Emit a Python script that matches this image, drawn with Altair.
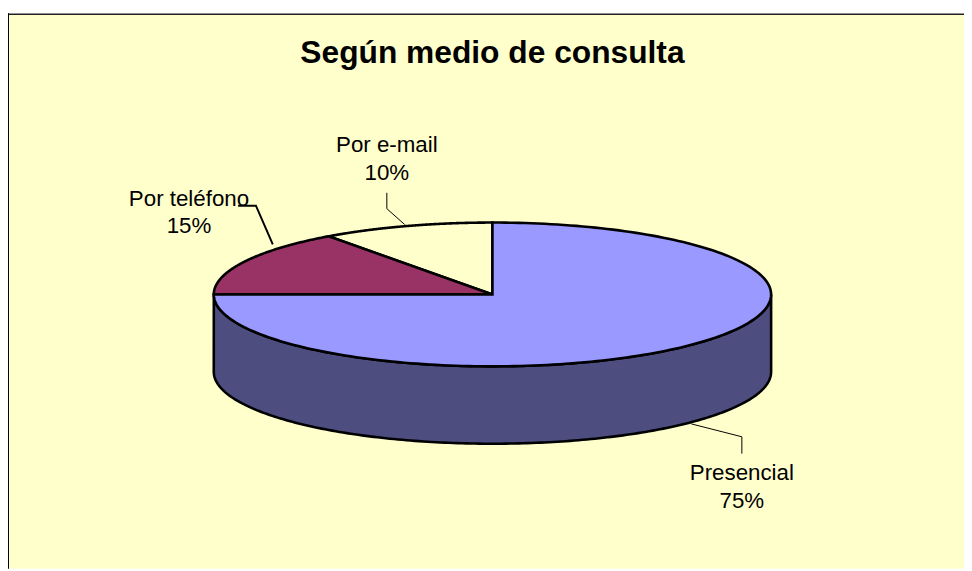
import math
import altair as alt
import pandas as pd

title_text = "Según medio de consulta"
names = ["Presencial", "Por teléfono", "Por e-mail"]
shares = [75, 15, 10]
colors = ["#9999FF", "#993366", "#FFFFCC"]
wall_color = "#4D4D80"
bg = "#FFFFCC"

label_x = [748, 190.5, 390]
name_y = [482, 205, 151]
pct_y = [510, 233, 179]

leaders = [
    ([697, 748, 748], [425, 438, 455], 1),
    ([240, 258, 275], [205, 205, 244], 2),
    ([390, 390, 408], [192, 208, 224], 1),
]

CX, CY, RX, RY, DEPTH = 496.5, 294.5, 281, 72.5, 78
EDGE = 2.6
W, H = 964, 563
xs = alt.Scale(domain=[8, 8 + W], range=[0, W])
ys = alt.Scale(domain=[8 + H, 8], range=[H, 0])
X = lambda f="x": alt.X(f"{f}:Q", scale=xs, axis=None)
Y = lambda f="y": alt.Y(f"{f}:Q", scale=ys, axis=None)

layers = []

# panel background and frame
panel = pd.DataFrame({"x": [8], "x2": [8 + W], "y": [12], "y2": [8 + H]})
layers.append(
    alt.Chart(panel).mark_rect(fill=bg, stroke=None).encode(X(), x2="x2:Q", y=Y(), y2="y2:Q")
)
layers.append(
    alt.Chart(pd.DataFrame({"x": [8, 8 + W], "y": [12, 12]}))
    .mark_line(color="#222222", strokeWidth=1.6)
    .encode(X(), Y())
)
layers.append(
    alt.Chart(pd.DataFrame({"x": [8, 8], "y": [11, 8 + H]}))
    .mark_line(color="#000000", strokeWidth=2.0)
    .encode(X(), Y())
)

# side wall: lower half of the rim, out along the bottom and back along the top
wall = (
    alt.Chart(alt.sequence(0, 2.0001, 0.005, as_="f"))
    .transform_calculate(
        t=f"PI/2 + PI*(datum.f<=1 ? datum.f : 2-datum.f)",
        x=f"{CX}+{RX}*sin(datum.t)",
        y=f"{CY}-{RY}*cos(datum.t)+(datum.f<=1 ? {DEPTH} : 0)",
    )
    .mark_line(fill=wall_color, stroke="black", strokeWidth=EDGE, interpolate="linear-closed")
    .encode(X(), Y(), order="f:Q")
)
layers.append(wall)

# top-face slices, clockwise from twelve o'clock
start = 0
sectors = []
for name, share, col in zip(names, shares, colors):
    a0, a1 = 2 * math.pi * start / 100, 2 * math.pi * (start + share) / 100
    start += share
    sectors.append(
        alt.Chart(alt.sequence(-0.005, 1.0001, 0.005, as_="f"))
        .transform_calculate(
            t=f"{a0}+({a1}-{a0})*datum.f",
            x=f"datum.f<0 ? {CX} : {CX}+{RX}*sin(datum.t)",
            y=f"datum.f<0 ? {CY} : {CY}-{RY}*cos(datum.t)",
        )
        .mark_line(fill=col, stroke="black", strokeWidth=EDGE, interpolate="linear-closed")
        .encode(X(), Y(), order="f:Q")
    )
layers.extend(reversed(sectors))

# leader lines
for lx, ly, sw in leaders:
    layers.append(
        alt.Chart(pd.DataFrame({"x": lx, "y": ly, "i": range(len(lx))}))
        .mark_line(color="black", strokeWidth=sw)
        .encode(X(), Y(), order="i:Q")
    )

# labels
labels = pd.DataFrame(
    {
        "x": label_x * 2,
        "y": name_y + pct_y,
        "text": names + [f"{s}%" for s in shares],
    }
)
layers.append(
    alt.Chart(labels)
    .mark_text(font="Liberation Sans", fontSize=22.5, color="black", align="center", baseline="alphabetic")
    .encode(X(), Y(), text="text:N")
)
layers.append(
    alt.Chart(pd.DataFrame({"x": [496.5], "y": [61], "text": [title_text]}))
    .mark_text(font="Liberation Sans", fontSize=32, fontWeight="bold", color="black", align="center", baseline="alphabetic")
    .encode(X(), Y(), text="text:N")
)

chart = (
    alt.layer(*layers)
    .properties(width=W, height=H, padding=0, autosize=alt.AutoSizeParams(type="none"), background="white")
    .configure_view(stroke=None)
)
chart.save("out.html", embed_options={"renderer": "svg", "actions": False})
